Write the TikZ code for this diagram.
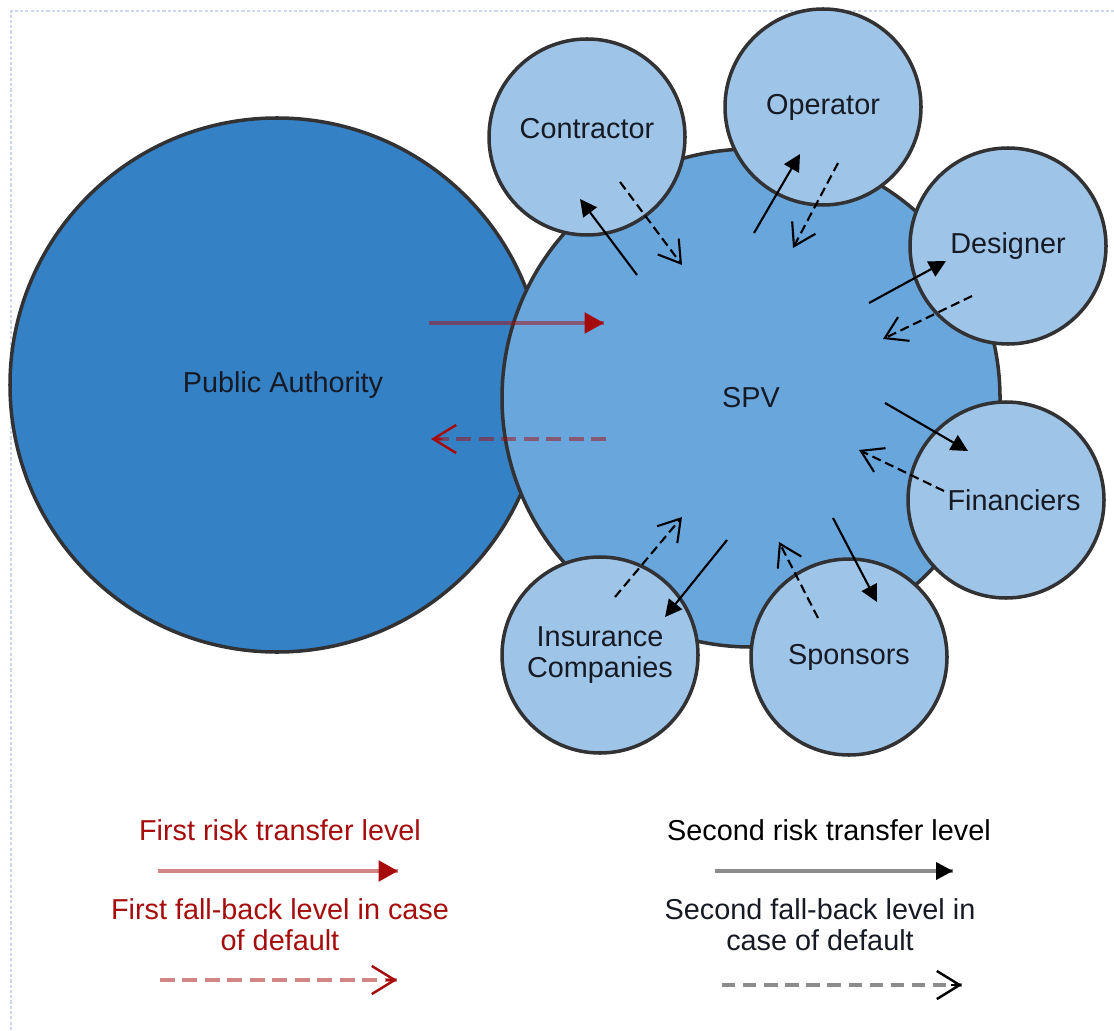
\documentclass[tikz,border=0pt]{standalone}
\usepackage{fontspec}
\setmainfont{Liberation Sans}
\usepackage{xcolor}
\usepackage{tikz}
\usetikzlibrary{arrows.meta}
\usetikzlibrary{calc}
\definecolor{authblue}{RGB}{52,129,198}
\definecolor{spvblue}{RGB}{104,166,220}
\definecolor{partyblue}{RGB}{158,196,232}
\definecolor{rimgray}{RGB}{50,50,52}
\definecolor{riskred}{RGB}{166,12,12}
\definecolor{framegray}{RGB}{205,214,234}
\definecolor{inkdark}{RGB}{22,26,36}
\newcommand{\riskfont}{\fontsize{8.2}{8.8}\selectfont}
\tikzset{party/.style={draw=rimgray, circle, line width=1pt, fill=partyblue, inner sep=0pt, minimum size=19.6mm, align=center, font=\riskfont, text=inkdark}}
\tikzset{second/.style={draw=black, line width=0.6pt, -{Triangle[length=4.8pt, width=4.8pt]}}}
\tikzset{secondfb/.style={draw=black, line width=0.6pt, dash pattern=on 2.6pt off 1.4pt, -{Straight Barb[length=6pt, width=7.5pt]}}}
\tikzset{redline/.style={draw=riskred, draw opacity=.5, line width=1.1pt}}
\tikzset{reddash/.style={redline, dash pattern=on 4.2pt off 2.2pt}}
\tikzset{redhead/.style={draw=riskred, line width=1.1pt, -{Triangle[length=5.5pt, width=5.8pt]}}}
\tikzset{redbarb/.style={draw=riskred, line width=0.7pt, -{Straight Barb[length=6.5pt, width=8pt]}}}
\tikzset{grayline/.style={draw=black, draw opacity=.45, line width=1pt}}
\tikzset{graydash/.style={grayline, dash pattern=on 3.8pt off 2.2pt}}
\tikzset{legend/.style={align=center, font=\riskfont, inner sep=0pt}}

\begin{document}
\begin{tikzpicture}[x=0.1mm, y=-0.1mm]
	\useasboundingbox (0,0) rectangle (1114,1030);
	\draw[framegray, line width=0.8pt, dash pattern=on 0.9pt off 0.6pt] (11,1030) -- (11,11) -- (1114,11);
	
	\node[party, fill=authblue, minimum size=53.4mm] (pa) at (277,385) {\hspace*{1.2mm}Public Authority};
	\node[party, fill=spvblue, minimum size=49.8mm] (spv) at (751,398) {SPV};
	\node[party] (con) at (587,137) {\raisebox{1.8mm}{Contractor}};
	\node[party] (ope) at (823,107) {Operator};
	\node[party] (des) at (1008,246) {Designer};
	\node[party] (fin) at (1006,500) {\hspace*{1.6mm}Financiers};
	\node[party] (spo) at (849,657) {Sponsors};
	\node[party] (ins) at (600,655) {Insurance\\Companies};
	
	% second level, spv <-> parties
	\foreach \n/\sx/\sy/\ex/\ey in {con/637/275/580/199, ope/754/233/800/154, des/869/303/946/261, fin/885/403/968/451, spo/833/518/877/602, ins/727/540/665/617}{
		\coordinate (\n-s) at (\sx,\sy);
		\coordinate (\n-e) at (\ex,\ey);
		\draw[second] (\n-s) -- (\n-e);
	}
	\foreach \n/\sx/\sy/\ex/\ey in {con/620/182/682/265, ope/838/163/793/248, des/972/296/883/339, fin/944/491/859/450, spo/818/618/779/542, ins/615/597/682/517}{
		\coordinate (\n-fs) at (\sx,\sy);
		\coordinate (\n-fe) at (\ex,\ey);
		\draw[secondfb] (\n-fs) -- (\n-fe);
	}
	
	% first level, authority <-> spv
	\coordinate (r1s) at (429,323);
	\coordinate (r1e) at (604,323);
	\draw[redline] (r1s) -- (r1e);
	\draw[redhead] ($(r1e)!5.5pt!(r1s)$) -- (r1e);
	\coordinate (r2s) at (606,439);
	\coordinate (r2e) at (431,439);
	\draw[reddash] (r2s) -- (r2e);
	\draw[redbarb] ($(r2e)!3pt!(r2s)$) -- (r2e);
	
	% legend
	\node[legend, text=riskred] (t1) at (280,830) {First risk transfer level};
	\coordinate (l1s) at (158,871);
	\coordinate (l1e) at (398,871);
	\draw[redline] (l1s) -- (l1e);
	\draw[redhead] ($(l1e)!5.5pt!(l1s)$) -- (l1e);
	\node[legend, text=riskred] (t2) at (280,925) {First fall-back level in case\\of default};
	\coordinate (l2s) at (160,980);
	\coordinate (l2e) at (397,980);
	\draw[reddash] (l2s) -- (l2e);
	\draw[redbarb] ($(l2e)!3pt!(l2s)$) -- (l2e);
	
	\node[legend, text=black] (t3) at (829,830) {Second risk transfer level};
	\coordinate (l3s) at (715,871);
	\coordinate (l3e) at (953,871);
	\draw[grayline] (l3s) -- (l3e);
	\draw[second, line width=1pt] ($(l3e)!4.8pt!(l3s)$) -- (l3e);
	\node[legend, text=inkdark] (t4) at (820,925) {Second fall-back level in\\case of default};
	\coordinate (l4s) at (722,985);
	\coordinate (l4e) at (962,985);
	\draw[graydash] (l4s) -- (l4e);
	\draw[draw=black, line width=0.7pt, -{Straight Barb[length=6.5pt, width=8pt]}] ($(l4e)!3pt!(l4s)$) -- (l4e);
\end{tikzpicture}
\end{document}
